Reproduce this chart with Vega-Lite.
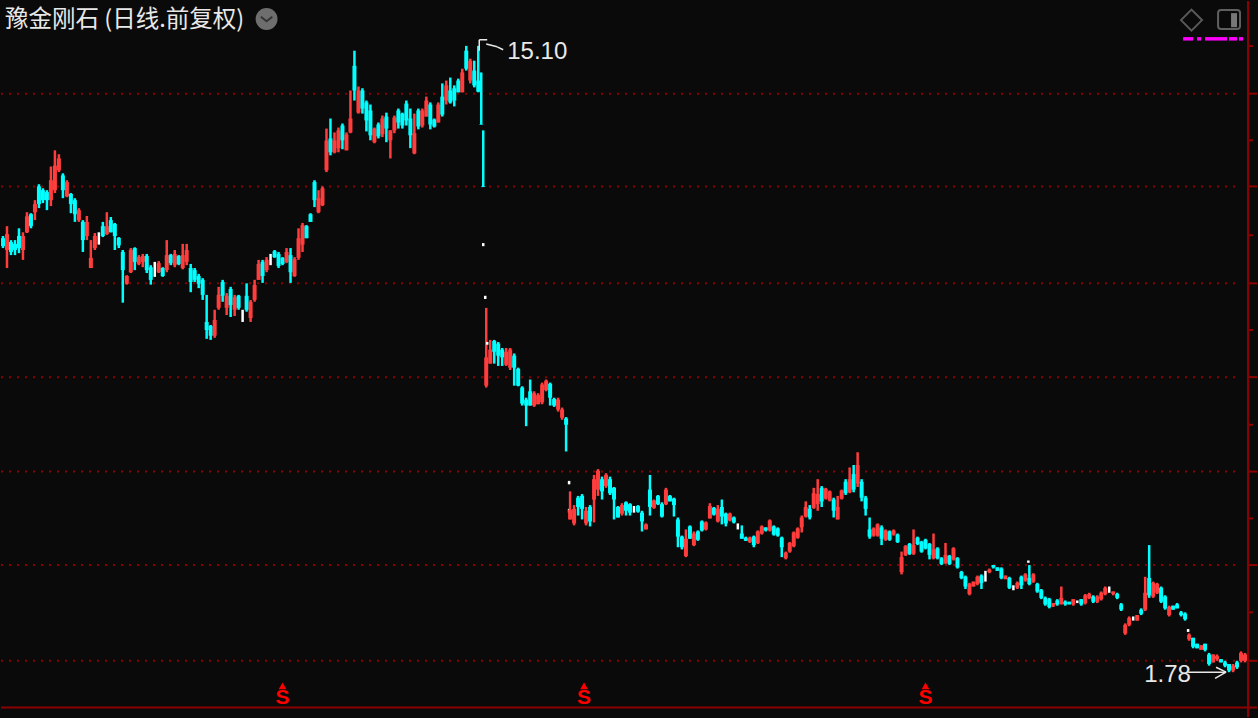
{"$schema":"https://vega.github.io/schema/vega-lite/v6.json","width":1258,"height":718,"autosize":{"type":"fit","contains":"padding"},"padding":0,"background":"#0a0a0a","config":{"view":{"stroke":null}},
"datasets":{
"candles":[
{"i":0,"h":7.85,"l":7.53,"o":7.79,"c":7.58},{"i":1,"h":8.12,"l":7.03,"o":7.48,"c":7.9},{"i":2,"h":7.74,"l":7.35,"o":7.69,"c":7.43},{"i":3,"h":7.74,"l":7.35,"o":7.64,"c":7.48},{"i":4,"h":8.06,"l":7.4,"o":7.85,"c":7.53},{"i":5,"h":7.95,"l":7.23,"o":7.48,"c":7.85},{"i":6,"h":8.52,"l":7.93,"o":7.95,"c":8.4},{"i":7,"h":8.49,"l":8.06,"o":8.46,"c":8.12},{"i":8,"h":8.88,"l":8.29,"o":8.52,"c":8.76},{"i":9,"h":9.38,"l":8.64,"o":9.31,"c":8.76},
{"i":10,"h":9.25,"l":8.79,"o":9.19,"c":8.88},{"i":11,"h":9.19,"l":8.58,"o":9.13,"c":8.88},{"i":12,"h":9.97,"l":8.7,"o":8.88,"c":9.51},{"i":13,"h":10.54,"l":9.1,"o":9.19,"c":10.0},{"i":14,"h":10.4,"l":9.78,"o":9.84,"c":10.25},{"i":15,"h":9.74,"l":8.94,"o":9.67,"c":9.19},{"i":16,"h":9.51,"l":8.97,"o":9.0,"c":9.45},{"i":17,"h":9.1,"l":8.49,"o":9.07,"c":8.76},{"i":18,"h":8.94,"l":8.24,"o":8.88,"c":8.46},{"i":19,"h":8.64,"l":8.24,"o":8.29,"c":8.58},
{"i":20,"h":8.29,"l":7.43,"o":8.24,"c":7.74},{"i":21,"h":8.41,"l":7.74,"o":7.85,"c":8.24},{"i":22,"h":7.74,"l":7.03,"o":7.03,"c":7.28},{"i":23,"h":7.93,"l":7.48,"o":7.53,"c":7.85},{"i":24,"h":7.95,"l":7.62,"o":7.78,"c":7.78},{"i":25,"h":8.24,"l":7.82,"o":8.12,"c":7.85},{"i":26,"h":8.52,"l":7.88,"o":7.9,"c":8.12},{"i":27,"h":8.38,"l":7.95,"o":8.29,"c":7.95},{"i":28,"h":8.21,"l":7.48,"o":8.18,"c":7.85},{"i":29,"h":7.82,"l":7.53,"o":7.8,"c":7.6},
{"i":30,"h":7.48,"l":6.24,"o":7.43,"c":6.98},{"i":31,"h":6.86,"l":6.64,"o":6.66,"c":6.84},{"i":32,"h":7.53,"l":6.91,"o":6.93,"c":7.48},{"i":33,"h":7.55,"l":6.98,"o":7.53,"c":7.18},{"i":34,"h":7.35,"l":7.1,"o":7.13,"c":7.3},{"i":35,"h":7.38,"l":7.05,"o":7.18,"c":7.33},{"i":36,"h":7.38,"l":6.91,"o":7.33,"c":6.98},{"i":37,"h":7.1,"l":6.64,"o":7.05,"c":6.75},{"i":38,"h":7.18,"l":6.82,"o":7.0,"c":7.0},{"i":39,"h":7.2,"l":6.91,"o":6.93,"c":7.15},
{"i":40,"h":7.05,"l":6.82,"o":7.03,"c":6.84},{"i":41,"h":7.74,"l":6.93,"o":6.98,"c":7.35},{"i":42,"h":7.38,"l":7.1,"o":7.35,"c":7.15},{"i":43,"h":7.48,"l":7.05,"o":7.1,"c":7.38},{"i":44,"h":7.35,"l":7.1,"o":7.33,"c":7.13},{"i":45,"h":7.64,"l":7.0,"o":7.03,"c":7.35},{"i":46,"h":7.64,"l":7.1,"o":7.18,"c":7.48},{"i":47,"h":7.13,"l":6.47,"o":7.03,"c":6.7},{"i":48,"h":7.03,"l":6.7,"o":6.98,"c":6.75},{"i":49,"h":6.89,"l":6.56,"o":6.84,"c":6.66},
{"i":50,"h":6.79,"l":6.3,"o":6.75,"c":6.41},{"i":51,"h":6.41,"l":5.51,"o":5.84,"c":5.68},{"i":52,"h":5.78,"l":5.49,"o":5.76,"c":5.57},{"i":53,"h":6.09,"l":5.53,"o":5.57,"c":5.88},{"i":54,"h":6.59,"l":6.09,"o":6.13,"c":6.41},{"i":55,"h":6.75,"l":6.26,"o":6.7,"c":6.39},{"i":56,"h":6.45,"l":5.98,"o":6.13,"c":6.39},{"i":57,"h":6.59,"l":5.94,"o":6.54,"c":6.19},{"i":58,"h":6.41,"l":5.96,"o":6.09,"c":6.36},{"i":59,"h":6.41,"l":6.09,"o":6.39,"c":6.13},
{"i":60,"h":6.09,"l":5.84,"o":5.95,"c":5.95},{"i":61,"h":6.67,"l":6.05,"o":6.39,"c":6.09},{"i":62,"h":6.3,"l":5.84,"o":5.92,"c":6.26},{"i":63,"h":6.75,"l":6.26,"o":6.3,"c":6.63},{"i":64,"h":7.23,"l":6.75,"o":6.75,"c":7.13},{"i":65,"h":7.23,"l":6.68,"o":7.18,"c":6.84},{"i":66,"h":7.3,"l":6.93,"o":6.98,"c":7.23},{"i":67,"h":7.38,"l":7.1,"o":7.25,"c":7.25},{"i":68,"h":7.48,"l":7.28,"o":7.45,"c":7.3},{"i":69,"h":7.43,"l":7.03,"o":7.38,"c":7.08},
{"i":70,"h":7.3,"l":7.1,"o":7.28,"c":7.13},{"i":71,"h":7.53,"l":7.15,"o":7.18,"c":7.43},{"i":72,"h":7.53,"l":6.68,"o":7.35,"c":6.93},{"i":73,"h":7.3,"l":6.82,"o":6.84,"c":7.25},{"i":74,"h":8.06,"l":7.23,"o":7.28,"c":7.79},{"i":75,"h":8.21,"l":7.43,"o":7.62,"c":8.15},{"i":76,"h":8.15,"l":7.79,"o":8.12,"c":7.79},{"i":77,"h":8.49,"l":8.24,"o":8.46,"c":8.24},{"i":78,"h":9.51,"l":8.67,"o":9.45,"c":8.88},{"i":79,"h":9.19,"l":8.49,"o":8.52,"c":8.94},
{"i":80,"h":9.31,"l":8.7,"o":8.73,"c":9.25},{"i":81,"h":11.36,"l":9.78,"o":9.84,"c":10.9},{"i":82,"h":11.76,"l":10.36,"o":10.98,"c":10.47},{"i":83,"h":11.21,"l":10.43,"o":10.47,"c":10.91},{"i":84,"h":11.4,"l":10.47,"o":10.62,"c":11.29},{"i":85,"h":11.56,"l":10.58,"o":11.48,"c":10.91},{"i":86,"h":11.21,"l":10.54,"o":10.54,"c":11.13},{"i":87,"h":12.95,"l":11.18,"o":11.21,"c":11.76},{"i":88,"h":14.85,"l":12.51,"o":14.1,"c":12.95},{"i":89,"h":13.13,"l":11.96,"o":12.0,"c":12.95},
{"i":90,"h":13.05,"l":11.96,"o":12.95,"c":12.17},{"i":91,"h":12.51,"l":11.25,"o":12.43,"c":11.68},{"i":92,"h":12.34,"l":10.91,"o":12.09,"c":11.1},{"i":93,"h":11.4,"l":10.8,"o":10.84,"c":11.36},{"i":94,"h":11.6,"l":10.98,"o":11.52,"c":11.06},{"i":95,"h":11.88,"l":11.03,"o":11.14,"c":11.76},{"i":96,"h":12.0,"l":10.84,"o":11.84,"c":11.36},{"i":97,"h":11.29,"l":10.25,"o":10.91,"c":11.29},{"i":98,"h":11.88,"l":11.18,"o":11.29,"c":11.8},{"i":99,"h":12.17,"l":11.36,"o":12.09,"c":11.6},
{"i":100,"h":12.0,"l":11.36,"o":11.96,"c":11.48},{"i":101,"h":12.51,"l":11.48,"o":12.38,"c":11.68},{"i":102,"h":12.17,"l":10.62,"o":11.76,"c":11.1},{"i":103,"h":11.96,"l":10.4,"o":10.43,"c":11.18},{"i":104,"h":12.17,"l":11.33,"o":12.09,"c":11.44},{"i":105,"h":12.17,"l":11.4,"o":11.48,"c":12.09},{"i":106,"h":12.68,"l":11.84,"o":11.84,"c":12.51},{"i":107,"h":12.43,"l":11.33,"o":12.34,"c":11.52},{"i":108,"h":11.76,"l":11.4,"o":11.72,"c":11.44},{"i":109,"h":12.43,"l":11.6,"o":11.6,"c":12.34},
{"i":110,"h":13.27,"l":11.84,"o":12.68,"c":11.92},{"i":111,"h":13.4,"l":12.34,"o":12.51,"c":13.18},{"i":112,"h":13.54,"l":12.38,"o":12.95,"c":12.43},{"i":113,"h":13.18,"l":12.26,"o":13.05,"c":12.51},{"i":114,"h":13.49,"l":12.87,"o":13.4,"c":12.87},{"i":115,"h":13.96,"l":12.87,"o":12.87,"c":13.78},{"i":116,"h":15.1,"l":13.87,"o":14.85,"c":13.96},{"i":117,"h":14.45,"l":13.27,"o":13.4,"c":14.35},{"i":118,"h":14.35,"l":13.09,"o":13.87,"c":13.18},{"i":119,"h":15.1,"l":12.87,"o":13.4,"c":12.9},
{"i":119.75,"h":13.78,"l":11.52,"o":11.54,"c":11.52},{"i":120.25,"h":11.29,"l":9.29,"o":9.31,"c":9.29},{"i":120.25,"h":7.66,"l":7.58,"o":7.62,"c":7.62},{"i":120.75,"h":6.39,"l":6.32,"o":6.35,"c":6.35},{"i":121,"h":6.13,"l":4.66,"o":4.69,"c":5.17},{"i":121.25,"h":5.45,"l":5.4,"o":5.42,"c":5.42},{"i":122,"h":5.49,"l":5.06,"o":5.06,"c":5.31},{"i":123,"h":5.49,"l":5.06,"o":5.47,"c":5.27},{"i":124,"h":5.45,"l":5.02,"o":5.42,"c":5.2},{"i":125,"h":5.34,"l":5.02,"o":5.31,"c":5.17},{"i":126,"h":5.34,"l":5.02,"o":5.04,"c":5.27},{"i":127,"h":5.34,"l":4.95,"o":4.99,"c":5.31},{"i":128,"h":5.24,"l":4.69,"o":5.2,"c":4.99},{"i":129,"h":4.99,"l":4.68,"o":4.97,"c":4.69},
{"i":130,"h":4.68,"l":4.38,"o":4.66,"c":4.41},{"i":131,"h":4.5,"l":4.08,"o":4.47,"c":4.38},{"i":132,"h":4.79,"l":4.38,"o":4.6,"c":4.38},{"i":133,"h":4.6,"l":4.36,"o":4.38,"c":4.57},{"i":134,"h":4.57,"l":4.4,"o":4.4,"c":4.54},{"i":135,"h":4.74,"l":4.4,"o":4.43,"c":4.71},{"i":136,"h":4.79,"l":4.6,"o":4.62,"c":4.77},{"i":137,"h":4.74,"l":4.38,"o":4.72,"c":4.5},{"i":138,"h":4.5,"l":4.36,"o":4.48,"c":4.38},{"i":139,"h":4.5,"l":4.29,"o":4.32,"c":4.47},
{"i":140,"h":4.35,"l":4.17,"o":4.2,"c":4.32},{"i":141,"h":4.21,"l":3.74,"o":4.19,"c":4.1},{"i":141.75,"h":3.38,"l":3.34,"o":3.36,"c":3.36},{"i":141.75,"h":3.07,"l":3.03,"o":3.05,"c":3.05},{"i":142,"h":3.26,"l":2.96,"o":2.96,"c":3.06},{"i":143,"h":3.11,"l":2.9,"o":2.92,"c":3.07},{"i":144,"h":3.21,"l":3.0,"o":3.19,"c":3.09},{"i":145,"h":3.23,"l":2.96,"o":3.21,"c":3.07},{"i":146,"h":3.09,"l":2.9,"o":2.92,"c":3.05},{"i":147,"h":3.11,"l":2.89,"o":3.09,"c":2.94},{"i":148,"h":3.45,"l":2.93,"o":3.17,"c":3.4},{"i":149,"h":3.52,"l":3.21,"o":3.28,"c":3.5},
{"i":150,"h":3.43,"l":3.17,"o":3.4,"c":3.26},{"i":151,"h":3.47,"l":3.3,"o":3.32,"c":3.45},{"i":152,"h":3.43,"l":3.22,"o":3.4,"c":3.24},{"i":153,"h":3.31,"l":2.96,"o":3.3,"c":3.17},{"i":154,"h":3.1,"l":2.98,"o":3.09,"c":2.98},{"i":155,"h":3.13,"l":3.0,"o":3.02,"c":3.11},{"i":156,"h":3.15,"l":3.0,"o":3.14,"c":3.05},{"i":157,"h":3.13,"l":3.0,"o":3.12,"c":3.03},{"i":158,"h":3.1,"l":3.03,"o":3.06,"c":3.06},{"i":159,"h":3.11,"l":3.03,"o":3.1,"c":3.04},
{"i":160,"h":3.05,"l":2.84,"o":3.03,"c":2.94},{"i":161,"h":2.92,"l":2.86,"o":2.86,"c":2.91},{"i":162,"h":3.45,"l":3.0,"o":3.28,"c":3.09},{"i":163,"h":3.17,"l":3.07,"o":3.08,"c":3.16},{"i":164,"h":3.22,"l":3.11,"o":3.21,"c":3.12},{"i":165,"h":3.14,"l":2.98,"o":3.12,"c":2.99},{"i":166,"h":3.3,"l":3.11,"o":3.12,"c":3.28},{"i":167,"h":3.22,"l":3.15,"o":3.21,"c":3.15},{"i":168,"h":3.19,"l":2.99,"o":3.18,"c":3.11},{"i":169,"h":2.98,"l":2.69,"o":2.96,"c":2.79},
{"i":170,"h":2.8,"l":2.67,"o":2.79,"c":2.69},{"i":171,"h":2.86,"l":2.6,"o":2.61,"c":2.77},{"i":172,"h":2.9,"l":2.77,"o":2.89,"c":2.77},{"i":173,"h":2.84,"l":2.7,"o":2.71,"c":2.82},{"i":174,"h":2.85,"l":2.75,"o":2.84,"c":2.76},{"i":175,"h":2.95,"l":2.84,"o":2.94,"c":2.85},{"i":176,"h":2.94,"l":2.85,"o":2.86,"c":2.93},{"i":177,"h":3.13,"l":2.97,"o":2.97,"c":3.1},{"i":178,"h":3.09,"l":3.0,"o":3.08,"c":3.01},{"i":179,"h":3.11,"l":2.93,"o":2.94,"c":3.07},
{"i":180,"h":3.17,"l":2.91,"o":3.09,"c":2.99},{"i":181,"h":3.03,"l":2.89,"o":3.02,"c":2.92},{"i":182,"h":3.03,"l":2.94,"o":2.95,"c":3.02},{"i":183,"h":2.99,"l":2.92,"o":2.98,"c":2.93},{"i":184,"h":2.92,"l":2.86,"o":2.89,"c":2.89},{"i":185,"h":2.9,"l":2.77,"o":2.82,"c":2.77},{"i":186,"h":2.79,"l":2.75,"o":2.78,"c":2.75},{"i":187,"h":2.79,"l":2.73,"o":2.74,"c":2.78},{"i":188,"h":2.8,"l":2.69,"o":2.79,"c":2.71},{"i":189,"h":2.85,"l":2.72,"o":2.73,"c":2.84},
{"i":190,"h":2.9,"l":2.81,"o":2.82,"c":2.89},{"i":191,"h":2.88,"l":2.84,"o":2.88,"c":2.85},{"i":192,"h":2.96,"l":2.84,"o":2.85,"c":2.95},{"i":193,"h":2.9,"l":2.8,"o":2.89,"c":2.81},{"i":194,"h":2.88,"l":2.79,"o":2.87,"c":2.8},{"i":195,"h":2.79,"l":2.6,"o":2.78,"c":2.69},{"i":196,"h":2.65,"l":2.58,"o":2.59,"c":2.64},{"i":197,"h":2.74,"l":2.64,"o":2.65,"c":2.73},{"i":198,"h":2.84,"l":2.69,"o":2.7,"c":2.83},{"i":199,"h":2.88,"l":2.77,"o":2.78,"c":2.87},
{"i":200,"h":3.0,"l":2.83,"o":2.88,"c":2.98},{"i":201,"h":3.15,"l":2.98,"o":2.99,"c":3.09},{"i":202,"h":3.11,"l":2.96,"o":3.07,"c":2.98},{"i":203,"h":3.3,"l":3.07,"o":3.08,"c":3.24},{"i":204,"h":3.4,"l":3.05,"o":3.12,"c":3.23},{"i":205,"h":3.32,"l":3.09,"o":3.3,"c":3.15},{"i":206,"h":3.3,"l":3.17,"o":3.18,"c":3.29},{"i":207,"h":3.27,"l":3.15,"o":3.16,"c":3.26},{"i":208,"h":3.19,"l":2.98,"o":3.17,"c":3.05},{"i":209,"h":3.21,"l":2.96,"o":2.96,"c":3.09},
{"i":210,"h":3.28,"l":3.17,"o":3.18,"c":3.27},{"i":211,"h":3.4,"l":3.22,"o":3.37,"c":3.24},{"i":212,"h":3.54,"l":3.24,"o":3.25,"c":3.4},{"i":213,"h":3.57,"l":3.25,"o":3.46,"c":3.28},{"i":214,"h":3.73,"l":3.31,"o":3.35,"c":3.57},{"i":215,"h":3.4,"l":3.15,"o":3.37,"c":3.19},{"i":216,"h":3.21,"l":3.0,"o":3.19,"c":3.07},{"i":217,"h":2.98,"l":2.77,"o":2.86,"c":2.79},{"i":218,"h":2.88,"l":2.79,"o":2.8,"c":2.87},{"i":219,"h":2.92,"l":2.79,"o":2.8,"c":2.91},
{"i":220,"h":2.9,"l":2.71,"o":2.88,"c":2.77},{"i":221,"h":2.86,"l":2.75,"o":2.76,"c":2.85},{"i":222,"h":2.85,"l":2.75,"o":2.84,"c":2.76},{"i":223,"h":2.86,"l":2.8,"o":2.81,"c":2.85},{"i":224,"h":2.82,"l":2.73,"o":2.81,"c":2.74},{"i":225,"h":2.65,"l":2.45,"o":2.47,"c":2.6},{"i":226,"h":2.71,"l":2.61,"o":2.62,"c":2.7},{"i":227,"h":2.73,"l":2.62,"o":2.72,"c":2.63},{"i":228,"h":2.86,"l":2.62,"o":2.63,"c":2.71},{"i":229,"h":2.79,"l":2.71,"o":2.78,"c":2.72},
{"i":230,"h":2.75,"l":2.64,"o":2.74,"c":2.65},{"i":231,"h":2.77,"l":2.67,"o":2.76,"c":2.68},{"i":232,"h":2.73,"l":2.58,"o":2.72,"c":2.62},{"i":233,"h":2.82,"l":2.58,"o":2.59,"c":2.67},{"i":234,"h":2.69,"l":2.58,"o":2.68,"c":2.59},{"i":235,"h":2.6,"l":2.53,"o":2.59,"c":2.54},{"i":236,"h":2.73,"l":2.54,"o":2.55,"c":2.62},{"i":237,"h":2.62,"l":2.53,"o":2.61,"c":2.54},{"i":238,"h":2.69,"l":2.57,"o":2.58,"c":2.68},{"i":239,"h":2.6,"l":2.5,"o":2.59,"c":2.51},
{"i":240,"h":2.48,"l":2.41,"o":2.47,"c":2.42},{"i":241,"h":2.44,"l":2.33,"o":2.43,"c":2.35},{"i":242,"h":2.38,"l":2.28,"o":2.29,"c":2.37},{"i":243,"h":2.39,"l":2.35,"o":2.35,"c":2.39},{"i":244,"h":2.44,"l":2.36,"o":2.37,"c":2.43},{"i":245,"h":2.45,"l":2.33,"o":2.44,"c":2.38},{"i":246,"h":2.48,"l":2.39,"o":2.43,"c":2.43},{"i":247,"h":2.5,"l":2.46,"o":2.47,"c":2.49},{"i":248,"h":2.53,"l":2.5,"o":2.53,"c":2.51},{"i":249,"h":2.51,"l":2.48,"o":2.51,"c":2.48},
{"i":250,"h":2.51,"l":2.41,"o":2.5,"c":2.42},{"i":251,"h":2.44,"l":2.41,"o":2.41,"c":2.44},{"i":252,"h":2.43,"l":2.33,"o":2.42,"c":2.34},{"i":253,"h":2.36,"l":2.32,"o":2.34,"c":2.34},{"i":254,"h":2.39,"l":2.33,"o":2.34,"c":2.38},{"i":255,"h":2.44,"l":2.33,"o":2.43,"c":2.36},{"i":256,"h":2.46,"l":2.39,"o":2.4,"c":2.45},{"i":256.75,"h":2.57,"l":2.55,"o":2.56,"c":2.56},{"i":257,"h":2.53,"l":2.36,"o":2.42,"c":2.37},{"i":258,"h":2.46,"l":2.38,"o":2.39,"c":2.45},{"i":259,"h":2.38,"l":2.3,"o":2.37,"c":2.31},
{"i":260,"h":2.33,"l":2.25,"o":2.32,"c":2.26},{"i":261,"h":2.27,"l":2.2,"o":2.26,"c":2.21},{"i":262,"h":2.26,"l":2.18,"o":2.25,"c":2.19},{"i":263,"h":2.22,"l":2.19,"o":2.2,"c":2.22},{"i":264,"h":2.25,"l":2.2,"o":2.24,"c":2.21},{"i":265,"h":2.35,"l":2.21,"o":2.21,"c":2.26},{"i":266,"h":2.24,"l":2.2,"o":2.23,"c":2.21},{"i":267,"h":2.23,"l":2.21,"o":2.23,"c":2.21},{"i":268,"h":2.25,"l":2.2,"o":2.21,"c":2.25},{"i":269,"h":2.24,"l":2.22,"o":2.23,"c":2.23},
{"i":270,"h":2.25,"l":2.2,"o":2.25,"c":2.21},{"i":271,"h":2.29,"l":2.21,"o":2.22,"c":2.28},{"i":272,"h":2.3,"l":2.25,"o":2.26,"c":2.29},{"i":273,"h":2.28,"l":2.22,"o":2.27,"c":2.23},{"i":274,"h":2.28,"l":2.22,"o":2.23,"c":2.27},{"i":275,"h":2.31,"l":2.24,"o":2.25,"c":2.3},{"i":276,"h":2.35,"l":2.28,"o":2.29,"c":2.34},{"i":277,"h":2.35,"l":2.3,"o":2.33,"c":2.33},{"i":278,"h":2.31,"l":2.28,"o":2.29,"c":2.31},{"i":279,"h":2.3,"l":2.25,"o":2.29,"c":2.26},
{"i":280,"h":2.22,"l":2.16,"o":2.21,"c":2.17},{"i":281,"h":2.07,"l":1.99,"o":2.0,"c":2.06},{"i":282,"h":2.12,"l":2.05,"o":2.06,"c":2.11},{"i":283,"h":2.12,"l":2.09,"o":2.1,"c":2.1},{"i":284,"h":2.13,"l":2.09,"o":2.09,"c":2.13},{"i":285,"h":2.18,"l":2.13,"o":2.17,"c":2.14},{"i":286,"h":2.43,"l":2.16,"o":2.17,"c":2.3},{"i":287,"h":2.71,"l":2.26,"o":2.42,"c":2.28},{"i":288,"h":2.39,"l":2.26,"o":2.27,"c":2.38},{"i":289,"h":2.38,"l":2.29,"o":2.3,"c":2.37},
{"i":290,"h":2.35,"l":2.22,"o":2.34,"c":2.23},{"i":291,"h":2.28,"l":2.17,"o":2.27,"c":2.18},{"i":292,"h":2.2,"l":2.12,"o":2.13,"c":2.19},{"i":293,"h":2.2,"l":2.17,"o":2.2,"c":2.17},{"i":294,"h":2.22,"l":2.18,"o":2.21,"c":2.18},{"i":295,"h":2.16,"l":2.12,"o":2.15,"c":2.13},{"i":296,"h":2.15,"l":2.09,"o":2.14,"c":2.1},{"i":296.75,"h":2.03,"l":2.01,"o":2.02,"c":2.02},{"i":297,"h":2.0,"l":1.95,"o":1.96,"c":1.99},{"i":298,"h":1.97,"l":1.9,"o":1.97,"c":1.91},{"i":299,"h":1.93,"l":1.9,"o":1.93,"c":1.9},
{"i":300,"h":1.92,"l":1.89,"o":1.89,"c":1.92},{"i":301,"h":1.93,"l":1.88,"o":1.93,"c":1.89},{"i":302,"h":1.87,"l":1.79,"o":1.86,"c":1.8},{"i":303,"h":1.86,"l":1.81,"o":1.81,"c":1.86},{"i":304,"h":1.86,"l":1.82,"o":1.83,"c":1.85},{"i":305,"h":1.83,"l":1.81,"o":1.83,"c":1.81},{"i":306,"h":1.82,"l":1.78,"o":1.81,"c":1.79},{"i":307,"h":1.8,"l":1.75,"o":1.8,"c":1.76},{"i":308,"h":1.8,"l":1.75,"o":1.76,"c":1.79},{"i":309,"h":1.82,"l":1.77,"o":1.81,"c":1.78},{"i":310,"h":1.88,"l":1.81,"o":1.82,"c":1.87},{"i":311,"h":1.87,"l":1.81,"o":1.82,"c":1.86}
],
"grid":[{"p":12.81,"a":-0.5,"b":310},{"p":9.31,"a":-0.5,"b":310},{"p":6.67,"a":-0.5,"b":310},{"p":4.83,"a":-0.5,"b":310},{"p":3.49,"a":-0.5,"b":310},{"p":2.53,"a":-0.5,"b":310},{"p":1.82,"a":-0.5,"b":310}],
"frame":[{"a":311.75,"b":311.75,"p":1.5,"q":17.62},{"a":-0.5,"b":314,"p":1.55,"q":1.55},{"a":311.75,"b":314,"p":12.81,"q":12.81},{"a":311.75,"b":314,"p":9.31,"q":9.31},{"a":311.75,"b":314,"p":6.67,"q":6.67},{"a":311.75,"b":314,"p":4.83,"q":4.83},{"a":311.75,"b":314,"p":3.49,"q":3.49},{"a":311.75,"b":314,"p":2.53,"q":2.53},{"a":311.75,"b":314,"p":1.82,"q":1.82},{"a":311.75,"b":313,"p":15.09,"q":15.09},{"a":311.75,"b":313,"p":10.91,"q":10.91},{"a":311.75,"b":313,"p":7.87,"q":7.87},{"a":311.75,"b":313,"p":5.68,"q":5.68},{"a":311.75,"b":313,"p":4.1,"q":4.1},{"a":311.75,"b":313,"p":2.97,"q":2.97},{"a":311.75,"b":313,"p":2.15,"q":2.15}],
"leaders":[{"a":119.25,"b":119.25,"p":15.42,"q":14.85},{"a":119.25,"b":121.25,"p":15.42,"q":15.42},{"a":121,"b":123.75,"p":15.2,"q":15.05},{"a":123.75,"b":125.25,"p":15.05,"q":14.9},{"a":296.75,"b":306.25,"p":1.75,"q":1.75},{"a":303.75,"b":306.25,"p":1.78,"q":1.75},{"a":303.5,"b":306.25,"p":1.713,"q":1.75}],
"magenta":[{"a":295.5,"b":298,"p":15.47},{"a":299,"b":300,"p":15.47},{"a":301,"b":306.5,"p":15.47},{"a":307,"b":309,"p":15.47},{"a":309.5,"b":310.5,"p":15.47}],
"signals":[{"i":70,"p":1.6,"q":1.67,"t":"S"},{"i":145.5,"p":1.6,"q":1.67,"t":"S"},{"i":231,"p":1.6,"q":1.67,"t":"S"}],
"labels":[{"i":126.25,"p":14.8,"t":"15.10"},{"i":285.75,"p":1.735,"t":"1.78"}]
},
"data":{"name":"candles"},
"encoding":{"x":{"field":"i","type":"quantitative","scale":{"domain":[-0.5,314],"nice":false,"zero":false},"axis":null},"y":{"field":"p","type":"quantitative","scale":{"type":"log","domain":[1.5,17.62],"nice":false},"axis":null}},
"layer":[
{"data":{"name":"grid"},"mark":{"type":"rule","color":"#8b0000","strokeWidth":2,"strokeDash":[2,6]},"encoding":{"x":{"field":"a","type":"quantitative"},"x2":{"field":"b"},"y":{"field":"p","type":"quantitative"}}},
{"data":{"name":"frame"},"mark":{"type":"rule","color":"#8b0000","strokeWidth":2},"encoding":{"x":{"field":"a","type":"quantitative"},"x2":{"field":"b"},"y":{"field":"p","type":"quantitative"},"y2":{"field":"q"}}},
{"mark":{"type":"rule","strokeWidth":2.5},"encoding":{"y":{"field":"h","type":"quantitative"},"y2":{"field":"l"},"color":{"condition":[{"test":"datum.c>datum.o","value":"#ff3d3d"},{"test":"datum.c==datum.o","value":"#ffffff"}],"value":"#00ffff"}}},
{"mark":{"type":"rule","strokeWidth":4},"encoding":{"y":{"field":"o","type":"quantitative"},"y2":{"field":"c"},"color":{"condition":[{"test":"datum.c>datum.o","value":"#ff3d3d"},{"test":"datum.c==datum.o","value":"#ffffff"}],"value":"#00ffff"}}},
{"data":{"name":"leaders"},"mark":{"type":"rule","color":"#e8e8e8","strokeWidth":1.5},"encoding":{"x":{"field":"a","type":"quantitative"},"x2":{"field":"b"},"y":{"field":"p","type":"quantitative"},"y2":{"field":"q"}}},
{"data":{"name":"labels"},"mark":{"type":"text","align":"left","baseline":"middle","font":"Liberation Sans","fontSize":24,"color":"#e8e8e8"},"encoding":{"text":{"field":"t"}}},
{"data":{"name":"signals"},"mark":{"type":"text","align":"center","baseline":"middle","font":"Liberation Sans","fontWeight":"bold","fontSize":21,"color":"#ff0000"},"encoding":{"text":{"field":"t"}}},
{"data":{"name":"signals"},"mark":{"type":"point","shape":"triangle-up","filled":true,"size":60,"color":"#ff0000","opacity":1},"encoding":{"y":{"field":"q","type":"quantitative"}}},
{"data":{"values":[{"i":0.5,"p":16.5,"t":"豫金刚石 (日线.前复权)"}]},"mark":{"type":"text","align":"left","baseline":"middle","font":"Noto Sans CJK SC","fontSize":23.5,"color":"#e8e8e8"},"encoding":{"text":{"field":"t"}}},
{"data":{"values":[{"i":66,"p":16.56}]},"mark":{"type":"point","shape":"circle","filled":true,"size":480,"color":"#6e6e6e","opacity":1}},
{"data":{"values":[{"i":66,"p":16.56}]},"mark":{"type":"point","shape":"M-1,-0.4L0,0.4L1,-0.4","filled":false,"size":130,"color":"#333333","strokeWidth":2,"opacity":1}},
{"data":{"values":[{"i":297.6,"p":16.5}]},"mark":{"type":"point","shape":"diamond","filled":false,"size":441,"color":"#5a5a5a","strokeWidth":2,"opacity":1}},
{"data":{"values":[{"a":304.25,"b":309.75,"p":17.08,"q":16.0}]},"mark":{"type":"rect","cornerRadius":3,"fill":"#0a0a0a","stroke":"#5f5f5f","strokeWidth":2},"encoding":{"x":{"field":"a","type":"quantitative"},"x2":{"field":"b"},"y":{"field":"p","type":"quantitative"},"y2":{"field":"q"}}},
{"data":{"values":[{"a":307.5,"b":309,"p":16.9,"q":16.1}]},"mark":{"type":"rect","fill":"#777777"},"encoding":{"x":{"field":"a","type":"quantitative"},"x2":{"field":"b"},"y":{"field":"p","type":"quantitative"},"y2":{"field":"q"}}},
{"data":{"name":"magenta"},"mark":{"type":"rule","color":"#ff00ff","strokeWidth":3.5},"encoding":{"x":{"field":"a","type":"quantitative"},"x2":{"field":"b"},"y":{"field":"p","type":"quantitative"}}}
]}
